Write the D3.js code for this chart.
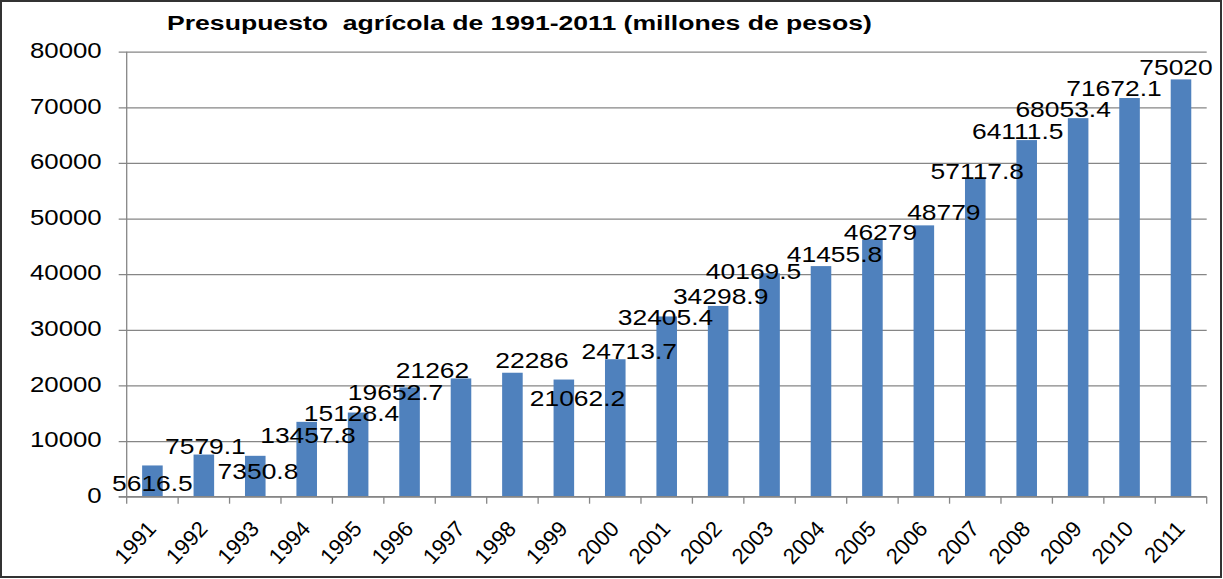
<!DOCTYPE html>
<html>
<head>
<meta charset="utf-8">
<script src="https://cdn.jsdelivr.net/npm/d3@7"></script>
<style>
  body { margin: 0; background: #fff; }
  svg { display: block; font-family: "Liberation Sans", Arial, sans-serif; }
</style>
</head>
<body>
<svg id="chart" width="1223" height="579"></svg>
<script>
const title = "Presupuesto  agrícola de 1991-2011 (millones de pesos)";
const years = ["1991", "1992", "1993", "1994", "1995", "1996", "1997", "1998", "1999", "2000",
    "2001", "2002", "2003", "2004", "2005", "2006", "2007", "2008", "2009", "2010", "2011"];
const values = [5616.5, 7579.1, 7350.8, 13457.8, 15128.4, 19652.7, 21262, 22286, 21062.2, 24713.7,
    32405.4, 34298.9, 40169.5, 41455.8, 46279, 48779, 57117.8, 64111.5, 68053.4, 71672.1, 75020];
const yTicks = [0, 10000, 20000, 30000, 40000, 50000, 60000, 70000, 80000];

// hand-moved data labels in the original: offset of label centre from bar centre / bar top
const labelNudge = [[0, 17.5], [1.6, -8], [2.7, 15.7], [1.2, 13.2], [-6.6, 1], [-14, 4.6],
    [-28.5, -7.9], [19.6, -12.2], [13.7, 19], [14, -8.2], [-1.2, 1.1], [2.5, -9.9],
    [-16, -2.3], [13.5, -11.6], [8, -7.3], [20, -13.4], [2, -7.5], [-9, -9.1], [-15, -8.7],
    [-15.6, -9.5], [-5, -12.4]];

const margin = {top: 51.7, left: 126.7, right: 16.3, bottom: 82.3},
    W = 1223, H = 579,
    width = W - margin.left - margin.right,
    height = H - margin.top - margin.bottom,
    stretch = 1.2,
    gridColor = "#868686",
    barColor = "#4F81BD";

const svg = d3.select("#chart");

// outer frame
svg.append("rect")
    .attr("x", 1).attr("y", 1)
    .attr("width", W - 3).attr("height", H - 3)
    .attr("fill", "none")
    .attr("stroke", "#333")
    .attr("stroke-width", 2);

const x = d3.scaleBand()
    .domain(years)
    .range([0, width])
    .paddingInner(0.6)
    .paddingOuter(0.3);

const y = d3.scaleLinear()
    .domain([0, 80000])
    .range([height, 0]);

const g = svg.append("g")
    .attr("transform", "translate(" + margin.left + "," + margin.top + ")");

// gridlines + y axis
const yAxis = d3.axisLeft(y).tickValues(yTicks).tickSize(-width).tickSizeOuter(0).tickFormat(d3.format("d"));
const yG = g.append("g").call(yAxis);
yG.select(".domain").remove();
yG.selectAll(".tick line")
    .attr("x1", -8)
    .attr("stroke", gridColor)
    .attr("stroke-width", 1.3);
yG.selectAll(".tick text").remove();
yG.selectAll(".tick").append("text")
    .attr("transform", "translate(-25,-2) scale(" + stretch + ",1)")
    .attr("text-anchor", "end")
    .attr("dy", "0.36em")
    .attr("fill", "#000")
    .style("font-size", "21.5px")
    .text(d => d);

g.append("line")
    .attr("x1", 0).attr("x2", 0)
    .attr("y1", 0).attr("y2", height)
    .attr("stroke", gridColor)
    .attr("stroke-width", 1.3);

// bars
g.selectAll("rect.bar")
    .data(values)
    .enter().append("rect")
    .attr("class", "bar")
    .attr("x", (d, i) => x(years[i]))
    .attr("width", x.bandwidth())
    .attr("y", d => y(d))
    .attr("height", d => height - y(d))
    .attr("fill", barColor);

// x axis
const step = x.step();
const xG = g.append("g").attr("transform", "translate(0," + height + ")");
xG.append("line")
    .attr("x1", -8).attr("x2", width)
    .attr("stroke", gridColor)
    .attr("stroke-width", 1.3);
xG.selectAll("line.tick")
    .data(d3.range(years.length + 1))
    .enter().append("line")
    .attr("class", "tick")
    .attr("x1", i => i * step).attr("x2", i => i * step)
    .attr("y1", 0).attr("y2", 7)
    .attr("stroke", gridColor)
    .attr("stroke-width", 1.3);
xG.selectAll("text.year")
    .data(years)
    .enter().append("text")
    .attr("class", "year")
    .attr("transform", d => "translate(" + (x(d) + x.bandwidth() / 2 + 5) + ",33) rotate(-47)")
    .attr("text-anchor", "end")
    .attr("fill", "#000")
    .style("font-size", "22px")
    .text(d => d);

// data labels
g.selectAll("text.val")
    .data(values)
    .enter().append("text")
    .attr("class", "val")
    .attr("transform", (d, i) => {
        const cx = x(years[i]) + x.bandwidth() / 2 + labelNudge[i][0];
        const cy = y(d) + labelNudge[i][1] + 7.9;
        return "translate(" + cx + "," + cy + ") scale(" + stretch + ",1)";
    })
    .attr("text-anchor", "middle")
    .attr("fill", "#000")
    .style("font-size", "22px")
    .text(d => d);

// title
const t = svg.append("text")
    .attr("x", 0).attr("y", 0)
    .attr("font-weight", "bold")
    .attr("fill", "#000")
    .style("font-size", "21px")
    .style("white-space", "pre")
    .text(title);
const tl = t.node().getComputedTextLength();
t.attr("transform", "translate(167,30) scale(" + (705 / tl) + ",1)");
</script>
</body>
</html>
